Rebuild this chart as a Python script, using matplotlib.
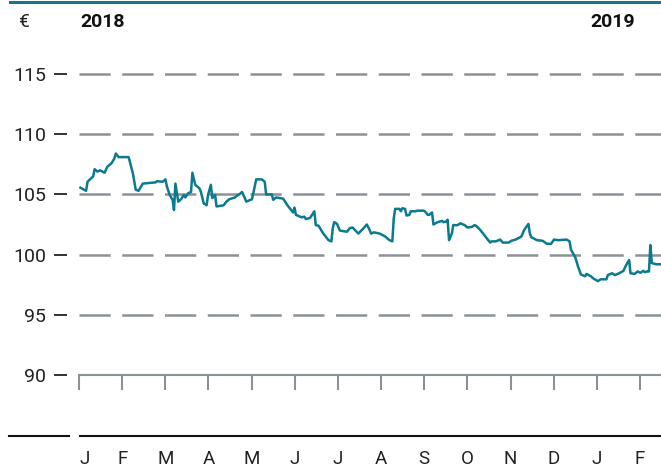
import numpy as np
import matplotlib
matplotlib.use("Agg")
import matplotlib.pyplot as plt
from matplotlib.lines import Line2D

plt.rcParams["font.family"] = ["Roboto", "DejaVu Sans"]

# trading days, counted from 1 Jan 2018
days = [
    1, 5, 6, 10, 11, 13, 15, 18, 20, 23,
    25, 26, 28, 35, 38, 40, 42, 45, 54, 55,
    59, 61, 62, 64, 66, 67, 68, 70, 72, 74,
    75, 77, 79, 80, 82, 85, 86, 88, 90, 91,
    93, 94, 96, 97, 102, 104, 106, 110, 112, 113,
    115, 116, 118, 122, 125, 129, 131, 132, 136, 137,
    139, 144, 147, 151, 152, 153, 157, 159, 160, 163,
    166, 167, 169, 172, 176, 178, 179, 180, 182, 184,
    189, 191, 193, 197, 200, 203, 205, 206, 208, 212,
    216, 219, 221, 222, 223, 226, 227, 228, 230, 231,
    233, 234, 237, 239, 243, 244, 246, 247, 249, 250,
    253, 256, 257, 259, 260, 261, 263, 264, 267, 269,
    272, 274, 277, 279, 280, 283, 286, 290, 291, 294,
    297, 299, 303, 305, 308, 312, 314, 317, 318, 319,
    323, 327, 330, 333, 335, 338, 344, 346, 347, 350,
    352, 354, 357, 358, 361, 363, 366, 368, 372, 373,
    376, 378, 381, 384, 386, 388, 389, 392, 394, 396,
    398, 399, 401, 402, 403, 404, 407, 410,
]
# share price in euro
price = [
    105.56, 105.3, 106.05, 106.5, 107.1, 106.9, 107.0, 106.8, 107.3, 107.6,
    108.0, 108.4, 108.1, 108.1, 106.75, 105.4, 105.3, 105.9, 106.0, 106.1,
    106.05, 106.25, 105.65, 104.95, 104.55, 103.7, 105.9, 104.4, 104.6, 104.95,
    104.75, 105.1, 105.2, 106.8, 105.8, 105.5, 105.2, 104.25, 104.1, 104.95,
    105.8, 104.7, 104.95, 104.0, 104.1, 104.4, 104.6, 104.75, 104.95, 105.0,
    105.2, 104.95, 104.4, 104.6, 106.25, 106.25, 106.05, 105.0, 105.0, 104.55,
    104.75, 104.65, 104.1, 103.5, 103.9, 103.3, 103.1, 103.15, 102.95, 103.05,
    103.6, 102.45, 102.4, 101.8, 101.2, 101.1, 102.2, 102.7, 102.55, 102.0,
    101.9, 102.2, 102.25, 101.75, 102.1, 102.5, 102.05, 101.75, 101.85, 101.75,
    101.5, 101.2, 101.1, 103.0, 103.8, 103.8, 103.6, 103.85, 103.8, 103.25,
    103.3, 103.6, 103.6, 103.65, 103.65, 103.6, 103.3, 103.3, 103.5, 102.5,
    102.7, 102.8, 102.7, 102.75, 102.9, 101.2, 101.75, 102.45, 102.45, 102.6,
    102.45, 102.25, 102.3, 102.45, 102.4, 102.05, 101.6, 101.0, 101.1, 101.1,
    101.25, 101.0, 101.0, 101.15, 101.25, 101.5, 102.05, 102.55, 101.75, 101.45,
    101.2, 101.15, 100.9, 100.9, 101.25, 101.2, 101.25, 101.1, 100.4, 99.8,
    99.0, 98.35, 98.2, 98.4, 98.2, 98.0, 97.8, 97.95, 97.95, 98.3,
    98.45, 98.3, 98.45, 98.65, 99.15, 99.55, 98.45, 98.4, 98.6, 98.5,
    98.65, 98.55, 98.6, 98.6, 100.8, 99.3, 99.2, 99.2,
]
month_letters = ["J", "F", "M", "A", "M", "J", "J", "A", "S", "O", "N", "D", "J", "F"]
y_ticks = [90, 95, 100, 105, 110, 115]

TEAL = "#0b7a8f"
GRID = "#8a9298"
TEXT = "#222222"

W, H = 661, 468
MONTH = 365.25 / 12  # months drawn with equal width

fig = plt.figure(figsize=(W / 100, H / 100), dpi=100)
ax = fig.add_axes([79 / W, (H - 375) / H, (W - 79) / W, 313 / H])

ax.plot(days, price, color=TEAL, lw=1.8, zorder=3, solid_joinstyle="round")
ax.set_ylim(90, 116)
ax.set_xlim(0, 410.5)

ax.set_yticks(y_ticks)
ax.yaxis.grid(True, color=GRID, lw=1.8, linestyle=(0, (12.5, 4.6)), zorder=1)
ax.set_axisbelow(True)

for s in ["top", "right"]:
    ax.spines[s].set_visible(False)
ax.spines["left"].set_position(("outward", 8.6))
ax.spines["left"].set_visible(False)
ax.spines["bottom"].set_color(GRID)
ax.spines["bottom"].set_linewidth(1.5)

ax.set_xticks(np.arange(len(month_letters)) * MONTH)
ax.set_xticklabels(month_letters)
ax.tick_params(axis="x", length=11, width=1.5, color=GRID, pad=43,
               labelsize=13.5, labelcolor=TEXT)
ax.get_xticklabels()[0].set_horizontalalignment("left")
ax.tick_params(axis="y", length=9.4, width=1.4, color="#333333", pad=5.5,
               labelsize=14, labelcolor=TEXT)

# header texts
fig.text(18 / W, 1 - 22 / H, "€", fontsize=14, color=TEXT, va="center", ha="left")
fig.text(80 / W, 1 - 22 / H, "2018", fontsize=14, fontweight="bold",
         color="#111111", va="center", ha="left")
fig.text(590 / W, 1 - 22 / H, "2019", fontsize=14, fontweight="bold",
         color="#111111", va="center", ha="left")

# rules at top and bottom
fig.add_artist(Line2D([10 / W, 1], [1 - 1.5 / H] * 2, color="#12758c", lw=2.2))
fig.add_artist(Line2D([9 / W, 69 / W], [1 - 436 / H] * 2, color="#111111", lw=1.5))
fig.add_artist(Line2D([80 / W, 1], [1 - 436 / H] * 2, color="#111111", lw=1.5))

fig.savefig("out.png", dpi=100)
